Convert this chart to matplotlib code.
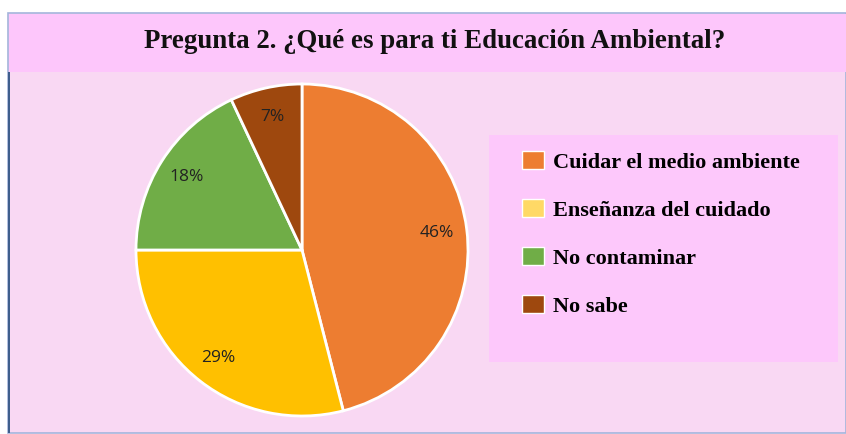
import matplotlib
matplotlib.use("Agg")
import matplotlib.pyplot as plt
from matplotlib.patches import Rectangle

title = "Pregunta 2. ¿Qué es para ti Educación Ambiental?"
categories = ["Cuidar el medio ambiente", "Enseñanza del cuidado", "No contaminar", "No sabe"]
values = [46, 29, 18, 7]
colors = ["#ED7D31", "#FFC000", "#70AD47", "#9E480E"]

W, H = 846, 434
fig = plt.figure(figsize=(W / 100, H / 100), dpi=100)
fig.patch.set_facecolor("white")

def px_rect(x0, y0, x1, y1, **kw):
    r = Rectangle((x0 / W, 1 - y1 / H), (x1 - x0) / W, (y1 - y0) / H,
                  transform=fig.transFigure, **kw)
    fig.patches.append(r)
    return r

# background panels
px_rect(8, 13, 846, 433, facecolor="#F9D8F3", edgecolor="#A4B4DC", lw=1.2, zorder=-3)
px_rect(9, 14, 846, 72, facecolor="#FDC6FB", edgecolor="none", zorder=-2)
px_rect(8, 72, 9.8, 433, facecolor="#3F5E8C", edgecolor="none", zorder=-2)
px_rect(489, 135, 838, 362, facecolor="#FDC8FB", edgecolor="none", zorder=-2)

fig.text(435 / W, 1 - 42 / H, title, ha="center", va="center",
         fontsize=19.4, fontweight="bold", family="Liberation Serif", color="#111111")

cx, cy, r = 302, 250, 166
ax = fig.add_axes([(cx - r) / W, (H - cy - r) / H, 2 * r / W, 2 * r / H])
ax.set_zorder(2)
ax.set_facecolor("none")
wedges, texts, autotexts = ax.pie(
    values, colors=colors, startangle=90, counterclock=False,
    autopct=lambda p: f"{p:.0f}%", pctdistance=0.82,
    wedgeprops=dict(edgecolor="white", linewidth=2),
    textprops=dict(fontsize=12.5, color="#222222", family="Open Sans"))
ax.set_aspect("equal")
ax.set_xlim(-1.0, 1.0)
ax.set_ylim(-1.0, 1.0)
ax.axis("off")

leg = fig.legend(wedges, categories, loc="upper left",
                 bbox_to_anchor=(522 / W, 1 - 151 / H),
                 borderpad=0, borderaxespad=0,
                 frameon=False, handlelength=1.0, handleheight=0.9,
                 labelspacing=1.17, handletextpad=0.4,
                 prop=dict(family="Liberation Serif", weight="bold", size=16))
leg.set_zorder(3)
for h in leg.legend_handles:
    h.set_edgecolor("white")
    h.set_linewidth(1.0)
leg.legend_handles[1].set_facecolor("#FFD966")

fig.savefig("out.png", dpi=100, facecolor=fig.get_facecolor())
